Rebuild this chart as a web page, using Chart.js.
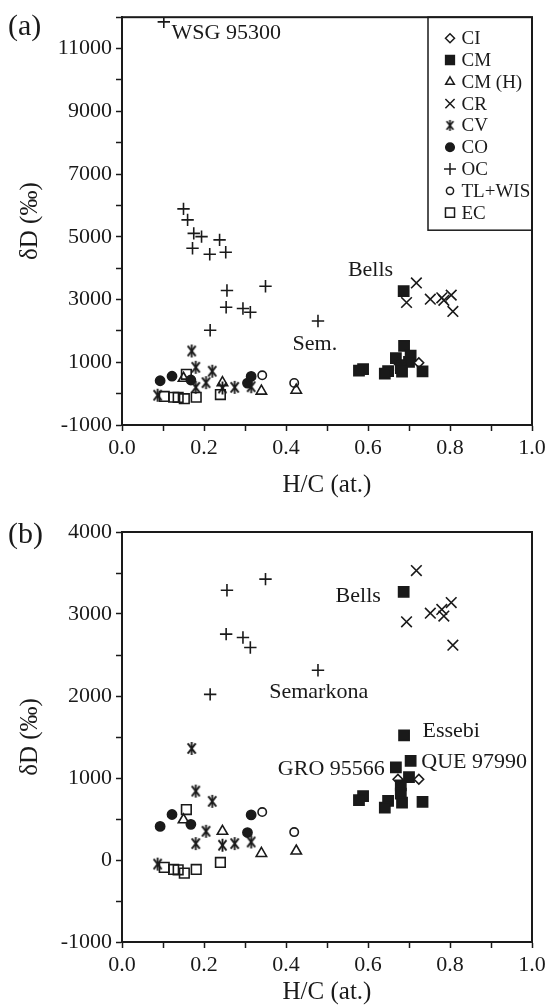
<!DOCTYPE html>
<html lang="en">
<head>
<meta charset="UTF-8">
<title>δD vs H/C</title>
<script src="https://cdn.jsdelivr.net/npm/chart.js@4"></script>
<style>
    body { margin: 0; background: #ffffff; }
    #wrap { position: relative; width: 550px; height: 1007px; }
    #chartA { position: absolute; left: 0; top: 0; }
    #chartB { position: absolute; left: 0; top: 507px; }
</style>
</head>
<body>
<div id="wrap">
    <canvas id="chartA" width="550" height="507"></canvas>
    <canvas id="chartB" width="550" height="500"></canvas>
</div>
<script>
    // groups, in legend order
    const groups = ['CI', 'CM', 'CM (H)', 'CR', 'CV', 'CO', 'OC', 'TL+WIS', 'EC'];

    // H/C (at.) and δD (‰) per group
    const ciX = [0.673, 0.724];
    const ciY = [985, 985];
    const cmX = [0.687, 0.688, 0.704, 0.668, 0.700, 0.680, 0.680, 0.683, 0.588, 0.578, 0.649, 0.641, 0.733];
    const cmY = [3270, 1520, 1210, 1130, 1010, 910, 810, 700, 780, 730, 720, 640, 710];
    const cmhX = [0.150, 0.245, 0.340, 0.425];
    const cmhY = [490, 350, 80, 110];
    const crX = [0.718, 0.694, 0.752, 0.780, 0.785, 0.803, 0.807];
    const crY = [3530, 2905, 3010, 3055, 2975, 3140, 2620];
    const cvX = [0.170, 0.180, 0.220, 0.205, 0.180, 0.245, 0.275, 0.315, 0.087];
    const cvY = [1360, 840, 715, 350, 200, 180, 200, 220, -50];
    const coX = [0.093, 0.122, 0.168, 0.315, 0.306];
    const coY = [410, 555, 435, 550, 335];
    const ocX = [0.102, 0.150, 0.160, 0.175, 0.194, 0.238, 0.172, 0.214, 0.253, 0.256, 0.350, 0.254, 0.295, 0.313, 0.215, 0.478];
    const ocY = [11850, 5890, 5540, 5110, 5006, 4900, 4635, 4443, 4506, 3290, 3425, 2755, 2714, 2592, 2020, 2314];
    const tlX = [0.342, 0.420];
    const tlY = [585, 340];
    const ecX = [0.157, 0.103, 0.126, 0.137, 0.152, 0.181, 0.240];
    const ecY = [615, -90, -115, -120, -160, -115, -30];

    // tick labels
    const xLabels = ['0.0', '0.2', '0.4', '0.6', '0.8', '1.0'];
    const yLabelsA = [-1000, 1000, 3000, 5000, 7000, 9000, 11000];
    const yLabelsB = [-1000, 0, 1000, 2000, 3000, 4000];

    // labels written on the plots (data coordinates)
    const notesA = [
        { text: 'WSG 95300', x: 0.121, y: 11300 },
        { text: 'Bells', x: 0.551, y: 3755 },
        { text: 'Sem.', x: 0.416, y: 1377 }
    ];
    const notesB = [
        { text: 'Bells', x: 0.521, y: 3146 },
        { text: 'Semarkona', x: 0.359, y: 1975 },
        { text: 'Essebi', x: 0.733, y: 1500 },
        { text: 'QUE 97990', x: 0.730, y: 1121 },
        { text: 'GRO 95566', x: 0.641, y: 1036, align: 'right' }
    ];

    const INK = '#1a1a1a';
    const FONT = '"Liberation Serif", "Times New Roman", serif';

    function asterisk(size, lw) {
        const c = document.createElement('canvas');
        c.width = c.height = size;
        const g = c.getContext('2d');
        g.strokeStyle = INK;
        g.lineWidth = lw;
        const m = size / 2, r = size / 2 - 1;
        [90, 52, 128].forEach(deg => {
            const t = deg * Math.PI / 180;
            g.beginPath();
            g.moveTo(m - r * Math.cos(t), m - r * Math.sin(t));
            g.lineTo(m + r * Math.cos(t), m + r * Math.sin(t));
            g.stroke();
        });
        return c;
    }
    const cvMark = asterisk(15, 1.9);
    const cvMarkSmall = asterisk(13, 1.7);

    // marker style per group: pointStyle, radius, filled, legend radius
    const styles = [
        { pointStyle: 'rectRot', r: 4.8, fill: false, lr: 4.5 },
        { pointStyle: 'rect', r: 7.2, fill: true, lr: 6.2 },
        { pointStyle: 'triangle', r: 6, fill: false, lr: 5 },
        { pointStyle: 'crossRot', r: 7.5, fill: false, lr: 6.5 },
        { pointStyle: cvMark, r: 6, fill: false, lr: 5, legendImg: cvMarkSmall },
        { pointStyle: 'circle', r: 4.6, fill: true, lr: 4.3 },
        { pointStyle: 'cross', r: 6.2, fill: false, lr: 6 },
        { pointStyle: 'circle', r: 4.2, fill: false, lr: 3.6 },
        { pointStyle: 'rect', r: 6.8, fill: false, lr: 6.4 }
    ];

    const seriesX = [ciX, cmX, cmhX, crX, cvX, coX, ocX, tlX, ecX];
    const seriesY = [ciY, cmY, cmhY, crY, cvY, coY, ocY, tlY, ecY];

    function buildDatasets(ymax) {
        return groups.map((name, i) => {
            const pts = seriesX[i].map((x, k) => ({ x: x, y: seriesY[i][k] })).filter(p => p.y <= ymax);
            const s = styles[i];
            return {
                label: name,
                data: pts,
                pointStyle: s.pointStyle,
                pointRadius: s.r,
                pointBorderWidth: 1.6,
                pointBorderColor: INK,
                pointBackgroundColor: s.fill ? INK : 'rgba(0,0,0,0)',
                showLine: false
            };
        });
    }

    const decor = {
        id: 'decor',
        afterDatasetsDraw(chart, args, opts) {
            const { ctx, chartArea: a, scales } = chart;
            ctx.save();
            ctx.strokeStyle = INK;
            ctx.fillStyle = INK;
            ctx.lineWidth = 2;
            ctx.strokeRect(a.left, a.top, a.right - a.left, a.bottom - a.top);

            ctx.font = '22px ' + FONT;
            ctx.textBaseline = 'alphabetic';
            opts.notes.forEach(n => {
                ctx.textAlign = n.align || 'left';
                ctx.fillText(n.text, scales.x.getPixelForValue(n.x), scales.y.getPixelForValue(n.y));
            });

            ctx.font = '30px ' + FONT;
            ctx.textAlign = 'left';
            ctx.textBaseline = 'middle';
            ctx.fillText(opts.tag, 8, opts.tagY);

            if (opts.legend) {
                const w = 104, h = 213;
                const x0 = a.right - w, y0 = a.top;
                ctx.lineWidth = 1.5;
                ctx.strokeRect(x0, y0, w, h);
                ctx.font = '19px ' + FONT;
                groups.forEach((name, i) => {
                    const s = styles[i];
                    const cy = y0 + 21 + i * 21.8;
                    ctx.fillStyle = s.fill ? INK : 'rgba(0,0,0,0)';
                    ctx.strokeStyle = INK;
                    ctx.lineWidth = 1.5;
                    Chart.helpers.drawPoint(ctx, {
                        pointStyle: s.legendImg || s.pointStyle,
                        radius: s.lr,
                        rotation: 0,
                        borderWidth: 1.5
                    }, x0 + 22, cy);
                    ctx.fillStyle = INK;
                    ctx.textAlign = 'left';
                    ctx.textBaseline = 'middle';
                    ctx.fillText(name, x0 + 33.5, cy + 1);
                });
            }
            ctx.restore();
        }
    };

    function makeChart(id, o) {
        return new Chart(document.getElementById(id), {
            type: 'scatter',
            data: { datasets: buildDatasets(o.ymax) },
            options: {
                responsive: false,
                animation: false,
                events: [],
                layout: { padding: { left: 0, right: 18, top: o.top, bottom: 0 } },
                plugins: {
                    legend: { display: false },
                    tooltip: { enabled: false },
                    decor: { notes: o.notes, tag: o.tag, tagY: o.tagY, legend: o.legend }
                },
                scales: {
                    x: {
                        type: 'linear',
                        min: 0,
                        max: 1,
                        afterFit: s => { s.height = o.xHeight; },
                        ticks: {
                            stepSize: 0.1,
                            autoSkip: false,
                            maxRotation: 0,
                            padding: 4,
                            color: INK,
                            font: { family: FONT, size: 22 },
                            callback: v => {
                                const t = Number(v).toFixed(1);
                                return xLabels.includes(t) ? t : '';
                            }
                        },
                        grid: { drawOnChartArea: false, drawTicks: true, tickLength: 6, tickColor: INK, tickWidth: 1.5 },
                        border: { display: true, color: INK, width: 2 },
                        title: {
                            display: true,
                            text: 'H/C (at.)',
                            color: INK,
                            font: { family: FONT, size: 25, lineHeight: 1.2 },
                            padding: { top: 0, bottom: o.xTitlePad }
                        }
                    },
                    y: {
                        type: 'linear',
                        min: o.ymin,
                        max: o.ymax,
                        afterFit: s => { s.width = 122; },
                        ticks: {
                            stepSize: o.ystep,
                            autoSkip: false,
                            padding: 4,
                            color: INK,
                            font: { family: FONT, size: 22 },
                            callback: v => (o.ylabels.includes(Math.round(v)) ? String(Math.round(v)) : '')
                        },
                        grid: { drawOnChartArea: false, drawTicks: true, tickLength: 6, tickColor: INK, tickWidth: 1.5 },
                        border: { display: true, color: INK, width: 2 },
                        title: {
                            display: true,
                            text: 'δD (‰)',
                            color: INK,
                            font: { family: FONT, size: 25, lineHeight: 1.2 },
                            padding: { top: 15, bottom: 0 }
                        }
                    }
                }
            },
            plugins: [decor]
        });
    }

    makeChart('chartA', {
        ymin: -1000, ymax: 12000, ystep: 1000, ylabels: yLabelsA,
        top: 15, xHeight: 82, xTitlePad: 7,
        notes: notesA, tag: '(a)', tagY: 27, legend: true
    });
    makeChart('chartB', {
        ymin: -1000, ymax: 4000, ystep: 500, ylabels: yLabelsB,
        top: 25, xHeight: 65, xTitlePad: 0,
        notes: notesB, tag: '(b)', tagY: 28, legend: false
    });
</script>
</body>
</html>
